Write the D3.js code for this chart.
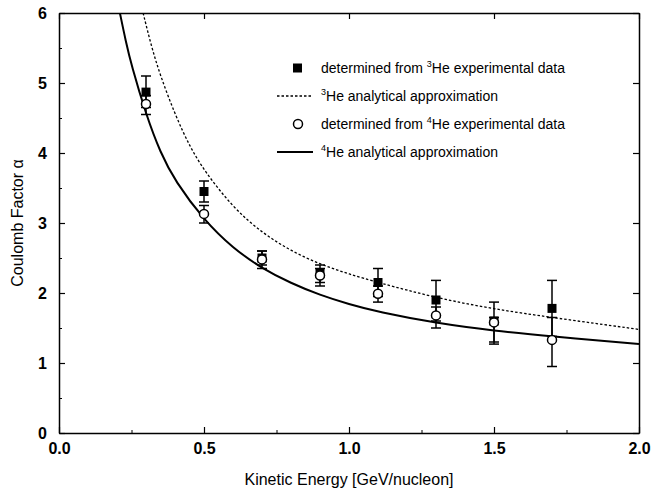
<!DOCTYPE html>
<html><head><meta charset="utf-8">
<script src="https://cdn.jsdelivr.net/npm/d3@7"></script>
<style>body{margin:0;background:#fff}text{font-family:"Liberation Sans",Arial,sans-serif}</style>
</head><body><div id="chart"></div>
<script>
// measured points
var energies = [0.3, 0.5, 0.7, 0.9, 1.1, 1.3, 1.5, 1.7];
var he3_val = [4.87, 3.45, 2.5, 2.28, 2.15, 1.9, 1.6, 1.78];
var he3_hi  = [5.1, 3.6, 2.6, 2.4, 2.35, 2.18, 1.87, 2.18];
var he3_lo  = [4.65, 3.3, 2.4, 2.15, 1.95, 1.6, 1.3, 1.38];
var he4_val = [4.7, 3.13, 2.48, 2.25, 1.99, 1.68, 1.58, 1.33];
var he4_hi  = [4.82, 3.25, 2.6, 2.35, 2.1, 1.8, 1.65, 1.65];
var he4_lo  = [4.55, 3.0, 2.35, 2.1, 1.87, 1.5, 1.27, 0.95];
// analytical curves
var he3_curve_x = [0.29, 0.32, 0.35, 0.4, 0.45, 0.5, 0.6, 0.7, 0.8, 0.9, 1.0, 1.1, 1.3, 1.5, 1.7, 2.0];
var he3_curve_y = [6.0, 5.5, 5.1, 4.55, 4.1, 3.75, 3.22, 2.86, 2.6, 2.41, 2.27, 2.15, 1.93, 1.77, 1.65, 1.48];
var he4_curve_x = [0.21, 0.23, 0.25, 0.3, 0.35, 0.4, 0.5, 0.6, 0.7, 0.8, 0.9, 1.0, 1.1, 1.3, 1.5, 1.7, 2.0];
var he4_curve_y = [6.0, 5.6, 5.25, 4.55, 4.0, 3.6, 3.04, 2.64, 2.35, 2.14, 1.97, 1.84, 1.73, 1.57, 1.46, 1.38, 1.27];
var x_ticks = [0.0, 0.5, 1.0, 1.5, 2.0];
var y_ticks = [0, 1, 2, 3, 4, 5, 6];

var margin = {top: 13, left: 59, right: 13, bottom: 65};
var W = 652, H = 498;
var w = W - margin.left - margin.right, h = H - margin.top - margin.bottom;

var svg = d3.select("#chart").append("svg").attr("width", W).attr("height", H)
  .append("g").attr("transform", "translate(" + margin.left + "," + margin.top + ")");

var x = d3.scaleLinear().domain([0, 2]).range([0, w]);
var y = d3.scaleLinear().domain([0, 6]).range([h, 0]);

svg.append("defs").append("clipPath").attr("id", "clip")
  .append("rect").attr("width", w).attr("height", h);

function axis(g) {
  g.selectAll("path").attr("stroke-width", 1.5);
  g.selectAll("line").attr("stroke-width", 1.2);
  g.selectAll("text").style("font-size", "16px").style("font-weight", "bold").attr("fill", "#000");
}
svg.append("g").attr("transform", "translate(0," + h + ")")
  .call(d3.axisBottom(x).tickValues(x_ticks).tickFormat(d3.format(".1f")).tickSizeInner(-6).tickSizeOuter(0).tickPadding(10)).call(axis);
svg.append("g").attr("transform", "translate(0," + h + ")")
  .call(d3.axisBottom(x).tickValues(d3.range(0.25, 2, 0.5)).tickFormat("").tickSizeInner(-3).tickSizeOuter(0));
svg.append("g")
  .call(d3.axisLeft(y).tickValues(y_ticks).tickFormat(d3.format("d")).tickSizeInner(-6).tickSizeOuter(0).tickPadding(12)).call(axis);
svg.append("g")
  .call(d3.axisLeft(y).tickValues(d3.range(0.5, 6, 1)).tickFormat("").tickSizeInner(-3).tickSizeOuter(0));
svg.append("g").attr("transform", "translate(" + w + ",0)")
  .call(d3.axisRight(y).tickValues(y_ticks).tickFormat("").tickSizeInner(-6).tickSizeOuter(0)).call(axis);
svg.append("g")
  .call(d3.axisTop(x).tickValues(x_ticks).tickFormat("").tickSizeInner(-6).tickSizeOuter(0)).call(axis);

var line = d3.line().curve(d3.curveBasis).x(function(d){return x(d[0]);}).y(function(d){return y(d[1]);});
var plot = svg.append("g").attr("clip-path", "url(#clip)");
plot.append("path").datum(d3.zip(he3_curve_x, he3_curve_y)).attr("d", line)
  .attr("fill", "none").attr("stroke", "#000").attr("stroke-width", 1.3).attr("stroke-dasharray", "2.5,2");
plot.append("path").datum(d3.zip(he4_curve_x, he4_curve_y)).attr("d", line)
  .attr("fill", "none").attr("stroke", "#000").attr("stroke-width", 2);

function errbars(vals, hi, lo) {
  var g = svg.append("g").attr("stroke", "#000").attr("stroke-width", 1.5);
  energies.forEach(function(e, i) {
    var cx = x(e);
    g.append("line").attr("x1", cx).attr("x2", cx).attr("y1", y(hi[i])).attr("y2", y(lo[i]));
    [hi[i], lo[i]].forEach(function(v){
      g.append("line").attr("x1", cx - 5).attr("x2", cx + 5).attr("y1", y(v)).attr("y2", y(v));
    });
  });
}
errbars(he3_val, he3_hi, he3_lo);
errbars(he4_val, he4_hi, he4_lo);
svg.selectAll(".sq").data(energies).enter().append("rect")
  .attr("x", function(d){return x(d) - 4.5;}).attr("y", function(d, i){return y(he3_val[i]) - 4.5;})
  .attr("width", 9).attr("height", 9).attr("fill", "#000");
svg.selectAll(".ci").data(energies).enter().append("circle")
  .attr("cx", function(d){return x(d);}).attr("cy", function(d, i){return y(he4_val[i]);})
  .attr("r", 4.5).attr("fill", "#fff").attr("stroke", "#000").attr("stroke-width", 1.5);

// legend
var lg = svg.append("g");
var ly = [55, 83, 111, 139];
lg.append("rect").attr("x", 234).attr("y", ly[0] - 4.5).attr("width", 9).attr("height", 9);
lg.append("line").attr("x1", 218).attr("x2", 254).attr("y1", ly[1]).attr("y2", ly[1])
  .attr("stroke", "#000").attr("stroke-width", 1.3).attr("stroke-dasharray", "2.5,2");
lg.append("circle").attr("cx", 239).attr("cy", ly[2]).attr("r", 4.5).attr("fill", "#fff").attr("stroke", "#000").attr("stroke-width", 1.5);
lg.append("line").attr("x1", 218).attr("x2", 254).attr("y1", ly[3]).attr("y2", ly[3]).attr("stroke", "#000").attr("stroke-width", 2);
var labels = [["determined from ", "3", "He experimental data"], ["", "3", "He analytical approximation"],
              ["determined from ", "4", "He experimental data"], ["", "4", "He analytical approximation"]];
labels.forEach(function(l, i) {
  var t = lg.append("text").attr("x", 262).attr("y", ly[i] + 5).style("font-size", "14px");
  t.append("tspan").text(l[0]);
  t.append("tspan").attr("dy", -6).style("font-size", "9px").text(l[1]);
  t.append("tspan").attr("dy", 6).text(l[2]);
});

svg.append("text").attr("x", w / 2).attr("y", h + 52).attr("text-anchor", "middle")
  .style("font-size", "16px").text("Kinetic Energy [GeV/nucleon]");
svg.append("text").attr("transform", "translate(-36," + (h / 2) + ") rotate(-90)").attr("text-anchor", "middle")
  .style("font-size", "16px").text("Coulomb Factor  α");
</script></body></html>
